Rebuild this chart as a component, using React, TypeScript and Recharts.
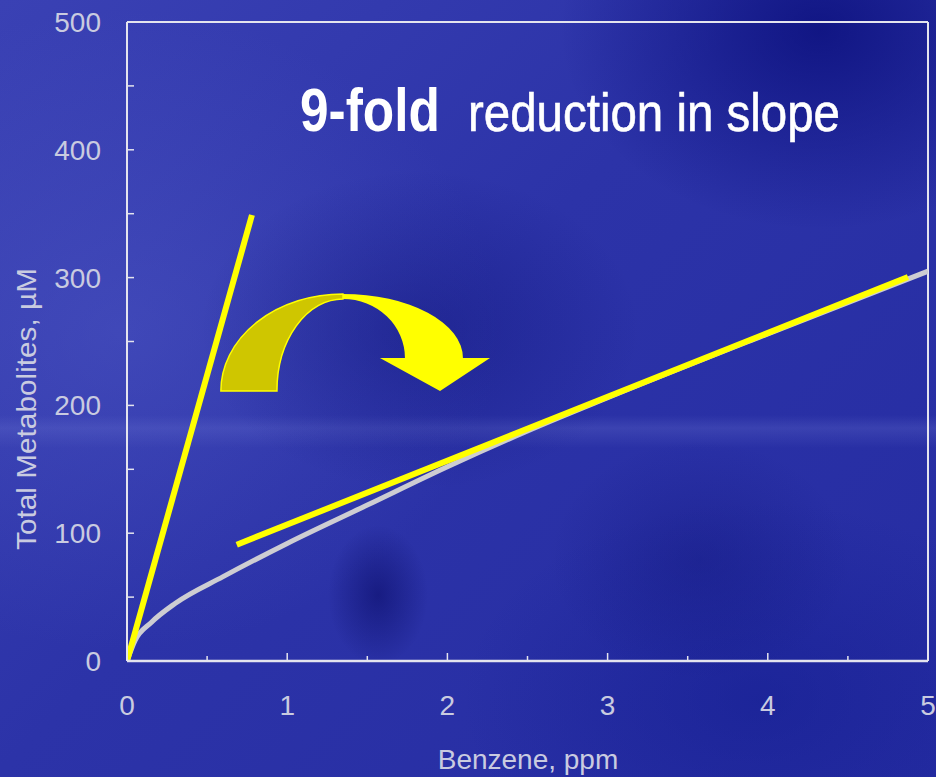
import { LineChart, Line, XAxis, YAxis, ReferenceLine, Customized } from "recharts";

// measured benzene dose-response curve (grey)
const curveX = [0, 0.05, 0.15, 0.3, 0.6, 1, 1.5, 2, 2.5, 3, 4, 5];
const curveY = [0, 16, 30, 45, 66, 92, 122, 152, 180, 206, 256, 305];

// yellow slope guides
const steepX = [0, 0.78];
const steepY = [0, 349];
const shallowX = [0.685, 4.875];
const shallowY = [91, 300.5];

const xTicks = [0, 0.5, 1, 1.5, 2, 2.5, 3, 3.5, 4, 4.5, 5];
const yTicks = [0, 50, 100, 150, 200, 250, 300, 350, 400, 450, 500];

const toRows = (xs: number[], ys: number[]) => xs.map((x, i) => ({ x, y: ys[i] }));
const curveData = toRows(curveX, curveY);
const steepData = toRows(steepX, steepY);
const shallowData = toRows(shallowX, shallowY);

const W = 936;
const H = 777;
const M = { top: 22, right: 8, bottom: 0, left: 0 };
const Y_AXIS_W = 127;
const X_AXIS_H = 116;
const PLOT_L = M.left + Y_AXIS_W;
const PLOT_R = W - M.right;
const PLOT_T = M.top;
const PLOT_B = H - M.bottom - X_AXIS_H;
const X_MAX = 5;
const Y_MAX = 500;

const kx = (PLOT_R - PLOT_L) / X_MAX;
const ky = (PLOT_B - PLOT_T) / Y_MAX;
const px = (v: number) => PLOT_L + v * kx;
const py = (v: number) => PLOT_B - v * ky;

const AXIS = "#e4e4ee";
const LABEL = "#c9cbe0";
const FONT = "'Liberation Sans', Arial, sans-serif";

function YTick(props: any) {
  const { x, y, payload } = props;
  const v = payload.value as number;
  return (
    <g>
      <line x1={x} x2={x + 7} y1={y} y2={y} stroke={AXIS} strokeWidth={1.5} />
      {v % 100 === 0 && (
        <text x={x - 26} y={y + 10} textAnchor="end" fill={LABEL} fontSize={28} fontFamily={FONT}>
          {v}
        </text>
      )}
    </g>
  );
}

function XTick(props: any) {
  const { x, y, payload } = props;
  const v = payload.value as number;
  const major = Number.isInteger(v);
  return (
    <g>
      <line x1={x} x2={x} y1={y} y2={y - (major ? 8 : 5)} stroke={AXIS} strokeWidth={1.5} />
      {major && (
        <text x={x} y={y + 54} textAnchor="middle" fill={LABEL} fontSize={28} fontFamily={FONT}>
          {v}
        </text>
      )}
    </g>
  );
}

// curved "slope reduction" arrow, defined in data units
function Overlay() {
  const cx = 1.348;
  const baseY = 211.3;
  const headY = 237.1;
  const backOuter = { rx: 0.762, ry: 75.9 };
  const backInner = { rx: 0.412, ry: 72 };
  const frontOuter = { rx: 0.749, ry: 50.1 };
  const frontInner = { rx: 0.387, ry: 46.2 };
  const wingL = 1.579;
  const wingR = 2.266;
  const tipX = 1.954;

  const back =
    `M ${px(cx - backOuter.rx)} ${py(baseY)} ` +
    `A ${backOuter.rx * kx} ${backOuter.ry * ky} 0 0 1 ${px(cx)} ${py(baseY + backOuter.ry)} ` +
    `L ${px(cx)} ${py(baseY + backInner.ry)} ` +
    `A ${backInner.rx * kx} ${backInner.ry * ky} 0 0 0 ${px(cx - backInner.rx)} ${py(baseY)} Z`;

  const front =
    `M ${px(cx)} ${py(headY + frontOuter.ry)} ` +
    `A ${frontOuter.rx * kx} ${frontOuter.ry * ky} 0 0 1 ${px(cx + frontOuter.rx)} ${py(headY)} ` +
    `L ${px(wingR)} ${py(headY)} L ${px(tipX)} ${py(baseY)} L ${px(wingL)} ${py(headY)} ` +
    `L ${px(cx + frontInner.rx)} ${py(headY)} ` +
    `A ${frontInner.rx * kx} ${frontInner.ry * ky} 0 0 0 ${px(cx)} ${py(headY + frontInner.ry)} Z`;

  return (
    <g>
      <path d={back} fill="#cfc600" stroke="#ffff00" strokeWidth={1.5} />
      <path d={front} fill="#ffff00" />
      <text x={300} y={131} fill="#ffffff" fontSize={61} fontWeight="bold" fontFamily={FONT}
        textLength={140} lengthAdjust="spacingAndGlyphs">
        9-fold
      </text>
      <text x={468} y={131} fill="#ffffff" stroke="#ffffff" strokeWidth={0.6} fontSize={54}
        fontFamily={FONT} textLength={372} lengthAdjust="spacingAndGlyphs">
        reduction in slope
      </text>
      <text x={36} y={409} transform="rotate(-90, 36, 409)" textAnchor="middle" fill={LABEL}
        fontSize={28} fontFamily={FONT} textLength={282} lengthAdjust="spacingAndGlyphs">
        Total Metabolites, µM
      </text>
      <text x={528} y={769} textAnchor="middle" fill={LABEL} fontSize={28} fontFamily={FONT}>
        Benzene, ppm
      </text>
    </g>
  );
}

const background = [
  "radial-gradient(ellipse 260px 200px at 820px 30px, rgba(8,12,120,0.75), rgba(8,12,120,0))",
  "radial-gradient(ellipse 50px 70px at 378px 595px, rgba(8,10,100,0.55), rgba(8,10,100,0))",
  "radial-gradient(ellipse 220px 160px at 420px 330px, rgba(15,20,120,0.45), rgba(15,20,120,0))",
  "radial-gradient(ellipse 150px 120px at 700px 560px, rgba(15,20,120,0.35), rgba(15,20,120,0))",
  "radial-gradient(ellipse 380px 320px at 120px 330px, rgba(90,100,205,0.35), rgba(90,100,205,0))",
  "radial-gradient(ellipse 300px 200px at 760px 700px, rgba(15,25,140,0.45), rgba(15,25,140,0))",
  "linear-gradient(180deg, rgba(255,255,255,0) 415px, rgba(150,160,235,0.16) 428px, rgba(255,255,255,0) 448px)",
  "linear-gradient(135deg, #3a41b4 0%, #2c33a8 45%, #252ca2 100%)",
].join(", ");

export default function App() {
  return (
    <div style={{ position: "absolute", left: 0, top: 0, width: W, height: H, background, overflow: "hidden" }}>
      <LineChart width={W} height={H} margin={M}>
        <XAxis
          dataKey="x"
          type="number"
          domain={[0, X_MAX]}
          ticks={xTicks}
          height={X_AXIS_H}
          tickSize={0}
          tickMargin={0}
          tickLine={false}
          tick={<XTick />}
          axisLine={{ stroke: AXIS, strokeWidth: 2.5 }}
          allowDataOverflow
        />
        <YAxis
          type="number"
          domain={[0, Y_MAX]}
          ticks={yTicks}
          width={Y_AXIS_W}
          tickSize={0}
          tickMargin={0}
          tickLine={false}
          tick={<YTick />}
          axisLine={{ stroke: AXIS, strokeWidth: 2 }}
          allowDataOverflow
        />
        <ReferenceLine y={Y_MAX} stroke={AXIS} strokeWidth={2} />
        <ReferenceLine x={X_MAX} stroke={AXIS} strokeWidth={2} />
        <Line data={curveData} dataKey="y" type="monotone" stroke="#cdcdd2" strokeWidth={5}
          dot={false} isAnimationActive={false} />
        <Line data={steepData} dataKey="y" type="linear" stroke="#ffff00" strokeWidth={6}
          dot={false} isAnimationActive={false} />
        <Line data={shallowData} dataKey="y" type="linear" stroke="#ffff00" strokeWidth={6}
          dot={false} isAnimationActive={false} />
        <Customized component={<Overlay />} />
      </LineChart>
    </div>
  );
}
